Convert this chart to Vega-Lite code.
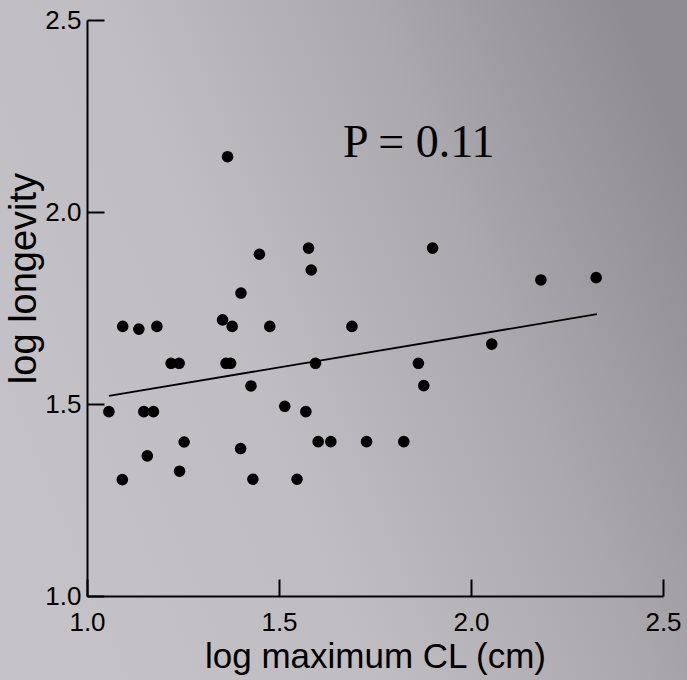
{
  "$schema": "https://vega.github.io/schema/vega-lite/v6.json",
  "width": 576,
  "height": 576,
  "autosize": {"type": "none"},
  "padding": {"left": 87, "top": 20, "right": 24, "bottom": 84},
  "background": "#bdbac0",
  "config": {
    "view": {"stroke": null},
    "axis": {
      "grid": false,
      "domainColor": "#000000",
      "domainWidth": 2,
      "tickColor": "#000000",
      "tickWidth": 2,
      "tickSize": -17,
      "labelColor": "#000000",
      "labelFont": "Liberation Sans",
      "labelFontSize": 26,
      "labelFlush": false,
      "labelOverlap": false,
      "titleColor": "#000000",
      "titleFont": "Liberation Sans",
      "titleFontWeight": "normal"
    }
  },
  "datasets": {
    "points": [
      {"cl": 1.057, "longevity": 1.480},
      {"cl": 1.092, "longevity": 1.303},
      {"cl": 1.093, "longevity": 1.702},
      {"cl": 1.135, "longevity": 1.695},
      {"cl": 1.148, "longevity": 1.480},
      {"cl": 1.157, "longevity": 1.365},
      {"cl": 1.173, "longevity": 1.480},
      {"cl": 1.182, "longevity": 1.702},
      {"cl": 1.219, "longevity": 1.606},
      {"cl": 1.240, "longevity": 1.606},
      {"cl": 1.241, "longevity": 1.325},
      {"cl": 1.253, "longevity": 1.401},
      {"cl": 1.353, "longevity": 1.719},
      {"cl": 1.362, "longevity": 1.606},
      {"cl": 1.374, "longevity": 1.606},
      {"cl": 1.366, "longevity": 2.144},
      {"cl": 1.378, "longevity": 1.702},
      {"cl": 1.401, "longevity": 1.789},
      {"cl": 1.400, "longevity": 1.384},
      {"cl": 1.427, "longevity": 1.547},
      {"cl": 1.432, "longevity": 1.304},
      {"cl": 1.449, "longevity": 1.890},
      {"cl": 1.476, "longevity": 1.702},
      {"cl": 1.515, "longevity": 1.494},
      {"cl": 1.547, "longevity": 1.304},
      {"cl": 1.570, "longevity": 1.480},
      {"cl": 1.577, "longevity": 1.906},
      {"cl": 1.584, "longevity": 1.849},
      {"cl": 1.595, "longevity": 1.606},
      {"cl": 1.602, "longevity": 1.402},
      {"cl": 1.635, "longevity": 1.402},
      {"cl": 1.690, "longevity": 1.702},
      {"cl": 1.728, "longevity": 1.402},
      {"cl": 1.825, "longevity": 1.402},
      {"cl": 1.863, "longevity": 1.606},
      {"cl": 1.877, "longevity": 1.548},
      {"cl": 1.900, "longevity": 1.906},
      {"cl": 2.054, "longevity": 1.656},
      {"cl": 2.182, "longevity": 1.823},
      {"cl": 2.326, "longevity": 1.829}
    ],
    "fit": [
      {"cl": 1.057, "longevity": 1.521},
      {"cl": 2.328, "longevity": 1.734}
    ],
    "note": [
      {"cl": 1.864, "longevity": 2.143, "label": "P = 0.11"}
    ]
  },
  "layer": [
    {
      "data": {"values": [{}]},
      "mark": {
        "type": "rect",
        "clip": false,
        "fill": {
          "gradient": "linear",
          "x1": 0, "y1": 0.7, "x2": 1, "y2": 0.3,
          "stops": [
            {"offset": 0, "color": "#c6c3c8"},
            {"offset": 0.4, "color": "#bfbcc2"},
            {"offset": 0.7, "color": "#aba8ae"},
            {"offset": 1, "color": "#8f8c93"}
          ]
        }
      },
      "encoding": {
        "x": {
          "datum": 0.7, "type": "quantitative",
          "scale": {"domain": [1, 2.5], "nice": false, "zero": false},
          "axis": {"title": "log maximum CL (cm)", "values": [1, 1.5, 2, 2.5], "format": ".1f", "labelPadding": 30, "titleFontSize": 35, "titleY": 43, "zindex": 2}
        },
        "x2": {"datum": 2.6},
        "y": {
          "datum": 0.7, "type": "quantitative",
          "scale": {"domain": [1, 2.5], "nice": false, "zero": false},
          "axis": {"title": "log longevity", "values": [1, 1.5, 2, 2.5], "format": ".1f", "labelPadding": 23, "titleFontSize": 38, "titleX": -44, "titleY": 258, "zindex": 2}
        },
        "y2": {"datum": 2.6}
      }
    },
    {
      "data": {"name": "fit"},
      "mark": {"type": "line", "color": "#000000", "strokeWidth": 1.8},
      "encoding": {
        "x": {"field": "cl", "type": "quantitative", "title": "log maximum CL (cm)"},
        "y": {"field": "longevity", "type": "quantitative", "title": "log longevity"}
      }
    },
    {
      "data": {"name": "points"},
      "mark": {"type": "circle", "color": "#000000", "opacity": 1, "size": 135},
      "encoding": {
        "x": {"field": "cl", "type": "quantitative", "title": "log maximum CL (cm)"},
        "y": {"field": "longevity", "type": "quantitative", "title": "log longevity"}
      }
    },
    {
      "data": {"name": "note"},
      "mark": {"type": "text", "font": "Liberation Serif", "fontSize": 46, "color": "#000000", "align": "center", "baseline": "alphabetic"},
      "encoding": {
        "x": {"field": "cl", "type": "quantitative", "title": "log maximum CL (cm)"},
        "y": {"field": "longevity", "type": "quantitative", "title": "log longevity"},
        "text": {"field": "label"}
      }
    }
  ]
}
